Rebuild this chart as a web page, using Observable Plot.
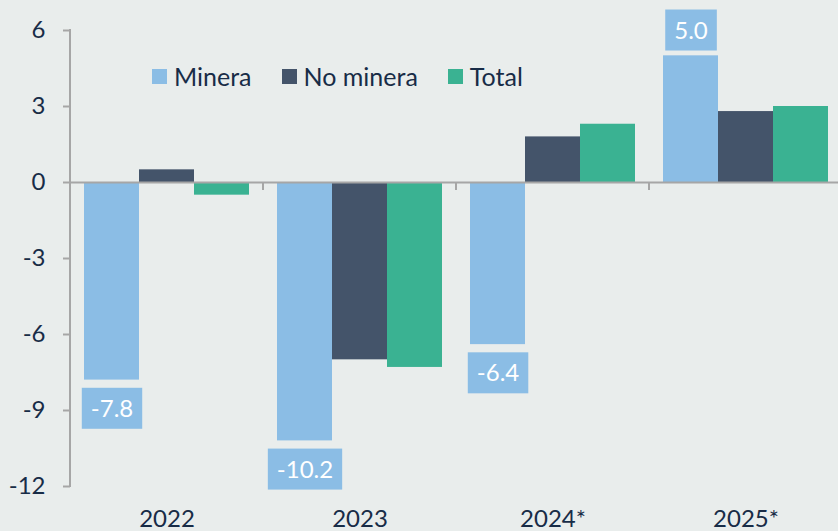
<!DOCTYPE html>
<html><head><meta charset="utf-8">
<script src="https://cdn.jsdelivr.net/npm/d3@7"></script>
<script src="https://cdn.jsdelivr.net/npm/@observablehq/plot@0.6"></script>
<style>
html,body{margin:0;padding:0;background:#E9EDEC;}
#chart{position:relative;width:838px;height:531px;overflow:hidden;}
#legend{position:absolute;left:152px;top:61px;display:flex;align-items:center;font-family:Lato, sans-serif;font-size:25px;color:#182C47;line-height:30px;}
.item{display:flex;align-items:center;margin-right:30px;}
.sw{width:15px;height:15px;margin-right:7px;}
</style></head>
<body><div id="chart"></div>
<script>
const years = ["2022", "2023", "2024*", "2025*"];
const series = ["Minera", "No minera", "Total"];
const minera = [-7.8, -10.2, -6.4, 5.0];
const noMinera = [0.5, -7.0, 1.8, 2.8];
const total = [-0.5, -7.3, 2.3, 3.0];
const yTicks = [-12, -9, -6, -3, 0, 3, 6];
const colors = ["#8BBDE5", "#44546A", "#3AB292"];

const data = years.flatMap((year, i) => [
  {year, series: series[0], value: minera[i]},
  {year, series: series[1], value: noMinera[i]},
  {year, series: series[2], value: total[i]}
]);
const lab = data.filter(d => d.series === "Minera");

const plot = Plot.plot({
  width: 838, height: 531,
  marginTop: 30, marginBottom: 45, marginLeft: 70, marginRight: 0,
  style: {background: "#E9EDEC", fontFamily: "Lato, sans-serif", fontSize: "24px", color: "#182C47", overflow: "visible"},
  fx: {domain: years, range: [70, 842], padding: 0},
  x: {domain: series, paddingInner: 0, paddingOuter: 0.25, axis: null},
  y: {domain: [-12, 6], range: [486, 30]},
  color: {domain: series, range: colors},
  marks: [
    Plot.barY(data, {fx: "year", x: "series", y: "value", fill: "series"}),
    Plot.ruleY([0], {stroke: "#A6A6A6", strokeWidth: 2}),
    Plot.axisY({ticks: yTicks, tickFormat: d => String(d), tickSize: 7, tickPadding: 18, stroke: "#A6A6A6", strokeWidth: 2, fill: "#182C47", fontSize: 24, label: null}),
    Plot.axisFx({anchor: "bottom", tickSize: 0, tickPadding: 23, fill: "#182C47", fontSize: 24, label: null}),
    Plot.text(lab.filter(d => d.value < 0), {fx: "year", x: "series", y: "value", text: d => d.value.toFixed(1), dy: 29, fill: "white", fontSize: 24}),
    Plot.text(lab.filter(d => d.value > 0), {fx: "year", x: "series", y: "value", text: d => d.value.toFixed(1), dy: -25, fill: "white", fontSize: 24})
  ]
});

const chart = document.getElementById("chart");
chart.appendChild(plot);

// label boxes
d3.select(plot).selectAll('g[aria-label="text"] text').each(function() {
  const b = this.getBBox();
  const padX = 9, h = 41;
  const cy = b.y + b.height / 2 + 1;
  const r = document.createElementNS("http://www.w3.org/2000/svg", "rect");
  r.setAttribute("x", b.x - padX);
  r.setAttribute("y", cy - h / 2);
  r.setAttribute("width", b.width + 2 * padX);
  r.setAttribute("height", h);
  r.setAttribute("fill", colors[0]);
  const t = this.getAttribute("transform");
  if (t) r.setAttribute("transform", t);
  this.parentNode.insertBefore(r, this);
});

// y axis line and category boundary ticks
const fx = plot.scale("fx"), y = plot.scale("y");
const g = d3.select(plot).append("g").attr("stroke", "#A6A6A6").attr("stroke-width", 2);
const x0 = fx.apply(years[0]);
g.append("line").attr("x1", x0).attr("x2", x0).attr("y1", y.apply(6) - 1).attr("y2", y.apply(-12) + 1);
years.slice(1).forEach(yr => {
  const xv = fx.apply(yr);
  g.append("line").attr("x1", xv).attr("x2", xv).attr("y1", y.apply(0)).attr("y2", y.apply(0) + 8);
});

// legend
const leg = document.createElement("div");
leg.id = "legend";
series.forEach((s, i) => {
  const it = document.createElement("div");
  it.className = "item";
  const sw = document.createElement("div");
  sw.className = "sw";
  sw.style.background = colors[i];
  const tx = document.createElement("span");
  tx.textContent = s;
  it.appendChild(sw); it.appendChild(tx);
  leg.appendChild(it);
});
chart.appendChild(leg);
</script>
</body></html>
